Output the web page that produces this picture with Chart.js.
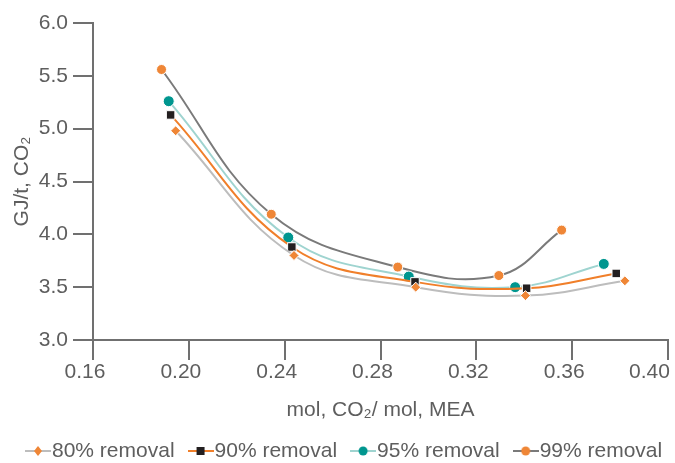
<!DOCTYPE html>
<html>
<head>
<meta charset="utf-8">
<script src="https://cdn.jsdelivr.net/npm/chart.js@4"></script>
<style>
  html, body { margin: 0; padding: 0; background: #fff; }
  #wrap { width: 675px; height: 463px; }
</style>
</head>
<body>
<div id="wrap"><canvas id="chart"></canvas></div>
<script>
// tick labels
const xTicks = [0.16, 0.20, 0.24, 0.28, 0.32, 0.36, 0.40];
const yTicks = [3.0, 3.5, 4.0, 4.5, 5.0, 5.5, 6.0];

const seriesNames = ['80% removal', '90% removal', '95% removal', '99% removal'];

// CO2 loading (mol CO2 / mol MEA) and energy (GJ/t CO2)
const x80 = [0.1945, 0.2439, 0.2947, 0.3405, 0.3820];
const y80 = [4.98, 3.80, 3.50, 3.42, 3.56];
const x90 = [0.1924, 0.2430, 0.2944, 0.3410, 0.3784];
const y90 = [5.13, 3.88, 3.55, 3.49, 3.63];
const x95 = [0.1916, 0.2415, 0.2918, 0.3362, 0.3732];
const y95 = [5.26, 3.97, 3.60, 3.50, 3.72];
const x99 = [0.1886, 0.2344, 0.2872, 0.3294, 0.3556];
const y99 = [5.56, 4.19, 3.69, 3.61, 4.04];

const textColor = '#5e5e5e';
const axisColor = '#707070';
const orange = '#ef8636';
const fontFamily = '"Liberation Sans", Arial, sans-serif';

const pts = (xs, ys) => xs.map((x, i) => ({ x: x, y: ys[i] }));

// little "line + marker" picture for the legend
function swatch(lineColor, markerColor, shape) {
  const c = document.createElement('canvas');
  c.width = 26; c.height = 14;
  const g = c.getContext('2d');
  g.strokeStyle = lineColor;
  g.lineWidth = 2;
  g.beginPath(); g.moveTo(0, 7); g.lineTo(26, 7); g.stroke();
  g.fillStyle = markerColor;
  g.beginPath();
  if (shape === 'diamond') {
    g.moveTo(13, 2); g.lineTo(17, 7); g.lineTo(13, 12); g.lineTo(9, 7); g.closePath();
  } else if (shape === 'square') {
    g.rect(9, 3, 8, 8);
  } else {
    g.arc(13, 7, 4.5, 0, Math.PI * 2);
  }
  g.fill();
  return c;
}

const swatches = [
  swatch('#bdbdbd', orange, 'diamond'),
  swatch('#f07f2a', '#231f20', 'square'),
  swatch('#9fd4d0', '#00968f', 'circle'),
  swatch('#7a7a7a', orange, 'circle')
];

// legend row drawn under the x axis title
const legendRow = {
  id: 'legendRow',
  afterDraw(chart) {
    const ctx = chart.ctx;
    ctx.save();
    ctx.font = '21px ' + fontFamily;
    ctx.fillStyle = textColor;
    ctx.textBaseline = 'middle';
    let x = 25;
    const y = 451;
    seriesNames.forEach((name, i) => {
      ctx.drawImage(swatches[i], x, y - 7);
      ctx.fillText(name, x + 27, y);
      x += 27 + ctx.measureText(name).width + 13;
    });
    ctx.restore();
  }
};

Chart.defaults.font.family = fontFamily;
Chart.defaults.font.size = 21;
Chart.defaults.color = textColor;

const common = {
  borderWidth: 2,
  tension: 0.4,
  pointBorderColor: '#ffffff',
  pointBorderWidth: 1,
  fill: false
};

new Chart(document.getElementById('chart'), {
  type: 'line',
  data: {
    datasets: [
      Object.assign({}, common, {
        label: seriesNames[0], data: pts(x80, y80),
        borderColor: '#bdbdbd', pointBackgroundColor: orange,
        pointStyle: 'rectRot', pointRadius: 5
      }),
      Object.assign({}, common, {
        label: seriesNames[1], data: pts(x90, y90),
        borderColor: '#f07f2a', pointBackgroundColor: '#231f20',
        pointStyle: 'rect', pointRadius: 6
      }),
      Object.assign({}, common, {
        label: seriesNames[2], data: pts(x95, y95),
        borderColor: '#9fd4d0', pointBackgroundColor: '#00968f',
        pointStyle: 'circle', pointRadius: 5.5
      }),
      Object.assign({}, common, {
        label: seriesNames[3], data: pts(x99, y99),
        borderColor: '#7a7a7a', pointBackgroundColor: orange,
        pointStyle: 'circle', pointRadius: 5
      })
    ]
  },
  options: {
    responsive: true,
    maintainAspectRatio: false,
    animation: false,
    layout: { padding: { left: 6, right: 5, top: 23, bottom: 40 } },
    plugins: {
      tooltip: { enabled: false },
      legend: { display: false }
    },
    scales: {
      x: {
        type: 'linear',
        min: 0.16,
        max: 0.40,
        afterBuildTicks: s => { s.ticks = xTicks.map(v => ({ value: v })); },
        afterFit: s => { s.paddingRight = 0; s.paddingLeft = 0; s.height = 83; },
        ticks: {
          // trailing em space keeps the last label inside the canvas
          callback: (v, i) => v.toFixed(2) + (i === xTicks.length - 1 ? '\u2003' : ''),
          padding: 0, labelOffset: -8, maxRotation: 0
        },
        grid: { drawOnChartArea: false, tickLength: 20, color: axisColor, lineWidth: 2 },
        border: { color: axisColor, width: 2 },
        title: { display: true, text: 'mol, CO₂/ mol, MEA', padding: { top: 0, bottom: 0 } }
      },
      y: {
        min: 3,
        max: 6,
        afterBuildTicks: s => { s.ticks = yTicks.map(v => ({ value: v })); },
        afterFit: s => { s.width = 87; },
        ticks: { callback: v => v.toFixed(1), padding: 5 },
        grid: { drawOnChartArea: false, tickLength: 20, color: axisColor, lineWidth: 2 },
        border: { color: axisColor, width: 2 },
        title: { display: true, text: 'GJ/t, CO₂', padding: { top: 4, bottom: 4 } }
      }
    }
  },
  plugins: [legendRow]
});
</script>
</body>
</html>
